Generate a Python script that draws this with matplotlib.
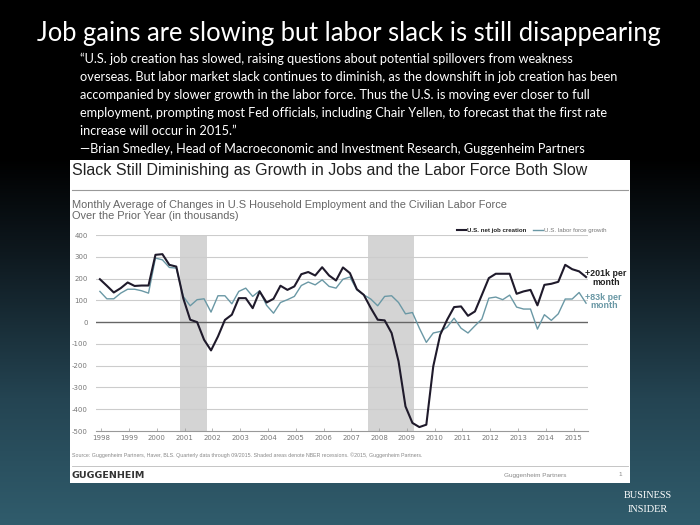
import numpy as np
import matplotlib.pyplot as plt
from matplotlib.colors import LinearSegmentedColormap
from matplotlib.patches import Rectangle
from matplotlib.lines import Line2D

# quarterly data, 1998Q1 .. 2015Q3 (thousands per month, yoy average)
startYear = 1998
jobCreation = [197, 167, 136, 156, 182, 166, 168, 168, 309, 312,
               263, 255, 110, 11, 0, -81, -130, -66, 10, 34,
               110, 110, 64, 141, 90, 107, 167, 148, 164, 220,
               230, 214, 252, 214, 191, 251, 225, 151, 125, 65,
               11, 8, -50, -180, -387, -463, -482, -471, -203, -58,
               11, 69, 72, 29, 49, 125, 202, 222, 222, 222,
               130, 141, 148, 77, 171, 176, 185, 263, 243, 233, 207]
laborForce = [141, 107, 107, 133, 151, 151, 144, 133, 294, 286,
              251, 248, 118, 75, 103, 107, 46, 121, 121, 84,
              141, 156, 118, 144, 77, 41, 90, 103, 118, 168,
              184, 171, 194, 164, 156, 197, 207, 148, 125, 106,
              75, 118, 121, 90, 38, 44, -28, -93, -50, -43,
              -23, 18, -28, -50, -17, 14, 110, 115, 103, 124,
              69, 60, 60, -32, 34, 8, 38, 106, 106, 136, 87]
recessions = [(2000.9, 2001.85), (2007.65, 2009.3)]
yearLabels = list(range(1998, 2016))
yTicks = list(range(-500, 401, 100))

seriesNames = ['U.S. net job creation', 'U.S. labor force growth']
endNotes = ['+201k per\nmonth', '+83k per\nmonth']

quoteLines = [
    '\u201cU.S. job creation has slowed, raising questions about potential spillovers from weakness',
    'overseas. But labor market slack continues to diminish, as the downshift in job creation has been',
    'accompanied by slower growth in the labor force. Thus the U.S. is moving ever closer to full',
    'employment, prompting most Fed officials, including Chair Yellen, to forecast that the first rate',
    'increase will occur in 2015.\u201d',
    '\u2014Brian Smedley, Head of Macroeconomic and Investment Research, Guggenheim Partners',
]

figureWidth = 7
figureHeight = 5.25
W = 700
H = 525
fig = plt.figure(figsize=(figureWidth, figureHeight), dpi=100)


def fx(px):
    return px / W


def fy(py):
    return 1 - py / H


# background gradient
bg = fig.add_axes([0, 0, 1, 1])
bgCmap = LinearSegmentedColormap.from_list('bg', [
    (0.0, (0, 0, 0)),
    (0.30, (0, 0, 0)),
    (0.48, (14/255, 24/255, 30/255)),
    (0.76, (36/255, 68/255, 82/255)),
    (1.0, (48/255, 92/255, 108/255))])
grad = np.linspace(0, 1, 256).reshape(-1, 1)
bg.imshow(grad, aspect='auto', cmap=bgCmap, extent=[0, 1, 0, 1], origin='upper')
bg.set_xlim(0, 1)
bg.set_ylim(0, 1)
bg.axis('off')

# white chart card
fig.patches.append(Rectangle((fx(70), fy(483)), fx(630) - fx(70), fy(160) - fy(483),
                             transform=fig.transFigure, facecolor='white',
                             edgecolor='none', zorder=1))

headFont = ['Lato', 'DejaVu Sans']
fig.text(fx(349), fy(33), 'Job gains are slowing but labor slack is still disappearing',
         color='white', fontsize=18.4, family=headFont, ha='center', va='center')
for k, line in enumerate(quoteLines):
    fig.text(fx(80), fy(59 + 18 * k), line, color='white', fontsize=9.15,
             family=headFont, ha='left', va='center')

fig.text(fx(72), fy(171), 'Slack Still Diminishing as Growth in Jobs and the Labor Force Both Slow',
         color='#222222', fontsize=11.55, family='Liberation Sans', ha='left', va='center', zorder=3)
fig.add_artist(Line2D([fx(72), fx(628)], [fy(190), fy(190)], color='#999999', lw=0.8,
                      transform=fig.transFigure, zorder=3))
fig.text(fx(72), fy(205), 'Monthly Average of Changes in U.S Household Employment and the Civilian Labor Force',
         color='#666666', fontsize=7.9, family='Liberation Sans', ha='left', va='center', zorder=3)
fig.text(fx(72), fy(216), 'Over the Prior Year (in thousands)',
         color='#666666', fontsize=7.9, family='Liberation Sans', ha='left', va='center', zorder=3)

# main plot
panel = fig.add_axes([fx(96), fy(431), fx(588) - fx(96), fy(235) - fy(431)])
panel.set_zorder(3)
panel.patch.set_alpha(0)
x = startYear + np.arange(len(jobCreation)) / 4

for a, b in recessions:
    panel.axvspan(a, b, color='#d4d4d4', lw=0, zorder=0)
for v in yTicks:
    if v == 0:
        panel.axhline(v, color='#666666', lw=1.0, zorder=1)
    elif v != -500:
        panel.axhline(v, color='#cccccc', lw=0.8, zorder=1)

jobColor = '#1f1a2b'
labColor = '#6a98a5'
panel.plot(x, laborForce, color=labColor, lw=1.0, zorder=2, label=seriesNames[1])
panel.plot(x, jobCreation, color=jobColor, lw=1.5, zorder=3, label=seriesNames[0])

panel.set_xlim(startYear - 0.14, x[-1] + 0.07)
panel.set_ylim(-500, 400)
panel.set_yticks(yTicks)
panel.set_yticklabels([str(v) for v in yTicks])
panel.set_xticks([y + 0.05 for y in yearLabels])
panel.set_xticklabels([str(y) for y in yearLabels])
panel.tick_params(axis='y', length=0, labelsize=5, labelcolor='#777777', pad=6)
panel.tick_params(axis='x', length=2, width=0.5, color='#999999', labelsize=5,
                  labelcolor='#777777', pad=3, direction='in')
for side in ['top', 'right', 'left']:
    panel.spines[side].set_visible(False)
panel.spines['bottom'].set_color('#999999')
panel.spines['bottom'].set_linewidth(0.8)

panel.text(x[-1] - 0.02, jobCreation[-1] - 5, endNotes[0], fontsize=6.4, fontweight='bold',
           color='#222222', family='Liberation Sans', ha='left', va='center',
           multialignment='center', linespacing=0.95, clip_on=False)
panel.text(x[-1] - 0.02, laborForce[-1] + 8, endNotes[1], fontsize=6.4, fontweight='bold',
           color=labColor, family='Liberation Sans', ha='left', va='center',
           multialignment='center', linespacing=0.95, clip_on=False)

handles, labels = panel.get_legend_handles_labels()
leg = panel.legend(handles[::-1], labels[::-1], loc='lower right',
                   bbox_to_anchor=(fx(606), fy(233)), bbox_transform=fig.transFigure,
                   ncol=2, frameon=False, handlelength=1.6,
                   handletextpad=0.1, columnspacing=1.1, borderpad=0, borderaxespad=0,
                   prop={'family': 'Liberation Sans', 'size': 4.4})
leg.get_texts()[0].set_fontweight('bold')
leg.get_texts()[0].set_color('#222222')
leg.get_texts()[1].set_color('#777777')

# footer of card
fig.text(fx(72), fy(455), 'Source: Guggenheim Partners, Haver, BLS. Quarterly data through 09/2015. '
         'Shaded areas denote NBER recessions. \u00a92015, Guggenheim Partners.',
         color='#888888', fontsize=3.8, family='Liberation Sans', ha='left', va='center', zorder=4)
fig.add_artist(Line2D([fx(72), fx(628)], [fy(466), fy(466)], color='#bbbbbb', lw=0.6,
                      transform=fig.transFigure, zorder=4))
fig.text(fx(72), fy(475), 'GUGGENHEIM', color='#333333', fontsize=6.8, fontweight='bold',
         family='DejaVu Sans', ha='left', va='center', zorder=4)
fig.text(fx(566), fy(475), 'Guggenheim Partners', color='#888888', fontsize=4.6,
         family='Liberation Sans', ha='right', va='center', zorder=4)
fig.text(fx(620), fy(475), '1', color='#888888', fontsize=4.6,
         family='Liberation Sans', ha='center', va='center', zorder=4)

# logo
fig.text(fx(648), fy(495), 'BUSINESS', color='white', fontsize=7.4,
         family='Liberation Serif', ha='center', va='center')
fig.text(fx(648), fy(509), 'INSIDER', color='white', fontsize=7.4,
         family='Liberation Serif', ha='center', va='center')

plt.savefig('out.png', dpi=100)
